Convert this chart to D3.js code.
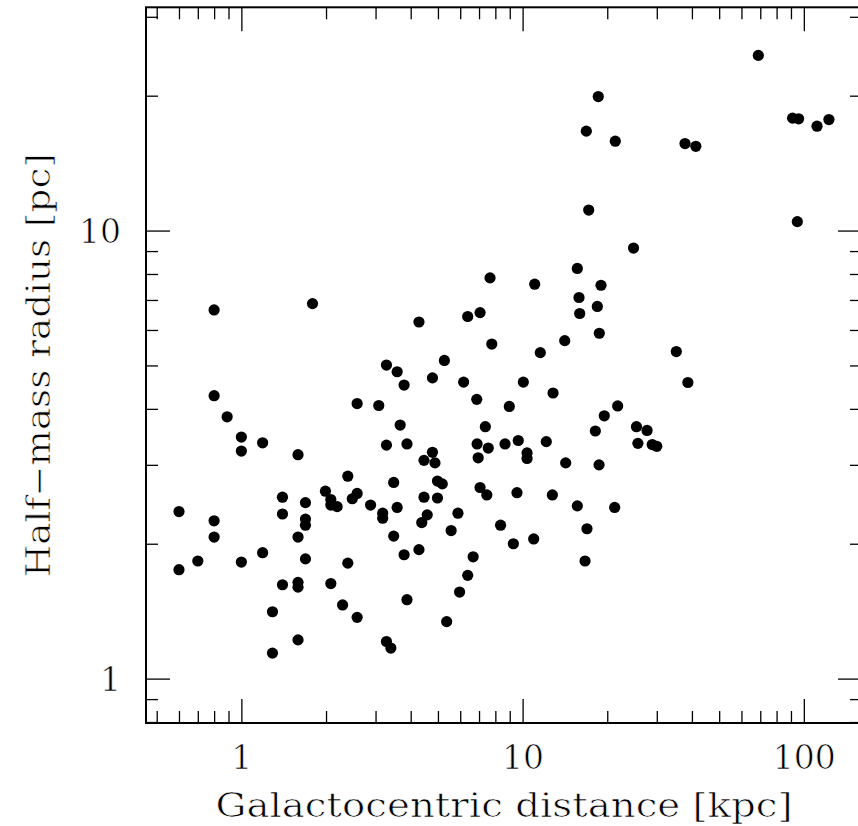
<!DOCTYPE html>
<html>
<head>
<meta charset="utf-8">
<script src="https://cdn.jsdelivr.net/npm/d3@7"></script>
<style>
  html, body { margin: 0; padding: 0; background: #fff; }
  svg { display: block; }
  text { font-family: "DejaVu Serif", serif; fill: #000; stroke: #fff; stroke-width: 0.7px; }
</style>
</head>
<body>
<svg id="chart" width="858" height="826"></svg>
<script>
// Galactocentric distance [kpc]
const distance = [
  0.60, 0.60, 0.70, 0.80, 0.80, 0.89, 0.80, 0.80, 1.00, 1.00,
  1.19, 1.00, 1.19, 1.29, 1.29, 1.59, 1.40, 1.40, 1.59, 1.69,
  1.69, 1.69, 1.69, 1.40, 1.59, 1.59, 1.59, 1.79, 1.99, 2.08,
  2.08, 2.19, 2.08, 2.29, 2.39, 2.39, 2.48, 2.58, 2.58, 2.58,
  2.88, 3.08, 3.18, 3.18, 3.28, 3.28, 3.28, 3.40, 3.48, 3.48,
  3.58, 3.58, 3.67, 3.79, 3.79, 3.88, 3.88, 4.28, 4.28, 4.38,
  4.46, 4.46, 4.58, 4.78, 4.78, 4.88, 4.98, 4.98, 5.18, 5.27,
  5.37, 5.57, 5.89, 5.97, 6.17, 6.38, 6.38, 6.67, 6.87, 6.89,
  6.95, 7.06, 7.06, 7.37, 7.46, 7.55, 7.66, 7.77, 8.35, 8.66,
  8.97, 9.27, 9.55, 9.65, 10.06, 10.37, 10.37, 10.95, 11.04, 11.56,
  12.14, 12.76, 12.83, 14.12, 14.23, 15.65, 15.65, 15.87, 15.96, 16.67,
  16.85, 16.94, 17.18, 18.14, 18.44, 18.58, 18.74, 18.7, 19.0, 19.52,
  21.25, 21.36, 21.78, 24.8, 25.4, 25.7, 27.7, 28.9, 30.0, 35.2,
  37.8, 38.7, 41.3, 68.9, 91.2, 95.8, 94.8, 111.4, 122.8
];
// Half-mass radius [pc]
const radius = [
  2.36, 1.75, 1.83, 6.65, 4.28, 3.84, 2.25, 2.07, 3.46, 3.22,
  3.36, 1.82, 1.91, 1.41, 1.14, 3.16, 2.54, 2.33, 2.07, 2.47,
  2.27, 2.20, 1.85, 1.62, 1.64, 1.60, 1.22, 6.87, 2.62, 2.51,
  2.44, 2.42, 1.63, 1.46, 2.83, 1.81, 2.52, 2.59, 4.11, 1.37,
  2.44, 4.07, 2.34, 2.28, 5.01, 3.32, 1.21, 1.17, 2.74, 2.08,
  4.84, 2.41, 3.68, 4.52, 1.89, 3.34, 1.50, 6.25, 1.94, 2.23,
  3.07, 2.54, 2.32, 4.69, 3.20, 3.03, 2.76, 2.53, 2.72, 5.13,
  1.34, 2.14, 2.34, 1.56, 4.59, 6.43, 1.70, 1.87, 4.20, 3.34,
  3.11, 6.56, 2.67, 3.65, 2.57, 3.27, 7.84, 5.58, 2.20, 3.34,
  4.05, 2.00, 2.60, 3.40, 4.59, 3.19, 3.10, 2.05, 7.59, 5.34,
  3.38, 2.57, 4.34, 5.68, 3.03, 8.23, 2.43, 7.09, 6.53, 1.83,
  16.67, 2.16, 11.11, 3.57, 6.77, 19.91, 5.90, 3.00, 7.55, 3.86,
  2.41, 15.83, 4.06, 9.14, 3.65, 3.35, 3.58, 3.33, 3.30, 5.37,
  15.64, 4.58, 15.42, 24.6, 17.82, 17.76, 10.47, 17.1, 17.69
];

const xDomain = [0.458, 161];
const yDomain = [0.796, 31.5];
const xMajorTicks = [1, 10, 100];
const xMinorTicks = [0.5, 0.6, 0.7, 0.8, 0.9, 2, 3, 4, 5, 6, 7, 8, 9,
                     20, 30, 40, 50, 60, 70, 80, 90];
const yMajorTicks = [1, 10];
const yMinorTicks = [0.8, 0.9, 2, 3, 4, 5, 6, 7, 8, 9, 20, 30];
const xLabel = "Galactocentric distance [kpc]";
const yLabel = "Half\u2212mass radius [pc]";

const L = 146, R = 862, T = 7.3, B = 723;
const svg = d3.select("#chart");

const x = d3.scaleLog().domain(xDomain).range([L, R]);
const y = d3.scaleLog().domain(yDomain).range([B, T]);

const fmt = d => String(d);
const FS = 33;

// points
svg.append("g").selectAll("circle")
  .data(distance.map((d, i) => [d, radius[i]]))
  .join("circle")
  .attr("cx", d => x(d[0]))
  .attr("cy", d => y(d[1]))
  .attr("r", 5.6)
  .attr("fill", "#000");

function styleAxis(g) {
  g.select(".domain").remove();
  g.selectAll(".tick line").attr("stroke", "#000").attr("stroke-width", 1.3);
}

// bottom
svg.append("g").attr("transform", `translate(0,${B})`)
  .call(d3.axisBottom(x).tickValues(xMajorTicks).tickSize(-24).tickFormat(fmt))
  .call(styleAxis)
  .call(g => g.selectAll("text").attr("y", 46).attr("dy", null)
      .attr("font-size", FS).attr("font-family", "DejaVu Serif").attr("fill", "#000"));
svg.append("g").attr("transform", `translate(0,${B})`)
  .call(d3.axisBottom(x).tickValues(xMinorTicks).tickSize(-12).tickFormat(""))
  .call(styleAxis);
// top
svg.append("g").attr("transform", `translate(0,${T})`)
  .call(d3.axisTop(x).tickValues(xMajorTicks).tickSize(-24).tickFormat(""))
  .call(styleAxis);
svg.append("g").attr("transform", `translate(0,${T})`)
  .call(d3.axisTop(x).tickValues(xMinorTicks).tickSize(-12).tickFormat(""))
  .call(styleAxis);
// left
svg.append("g").attr("transform", `translate(${L},0)`)
  .call(d3.axisLeft(y).tickValues(yMajorTicks).tickSize(-24).tickFormat(fmt))
  .call(styleAxis)
  .call(g => g.selectAll("text").attr("x", -25).attr("dy", "0.36em")
      .attr("font-size", FS).attr("font-family", "DejaVu Serif").attr("fill", "#000"));
svg.append("g").attr("transform", `translate(${L},0)`)
  .call(d3.axisLeft(y).tickValues(yMinorTicks).tickSize(-12).tickFormat(""))
  .call(styleAxis);
// right
svg.append("g").attr("transform", `translate(${R},0)`)
  .call(d3.axisRight(y).tickValues(yMajorTicks).tickSize(-24).tickFormat(""))
  .call(styleAxis);
svg.append("g").attr("transform", `translate(${R},0)`)
  .call(d3.axisRight(y).tickValues(yMinorTicks).tickSize(-12).tickFormat(""))
  .call(styleAxis);

// frame
svg.append("rect")
  .attr("x", L).attr("y", T).attr("width", R - L).attr("height", B - T)
  .attr("fill", "none").attr("stroke", "#000").attr("stroke-width", 2);

// axis titles
svg.append("text")
  .attr("x", (L + R) / 2).attr("y", 817)
  .attr("text-anchor", "middle").attr("font-size", FS)
  .attr("textLength", 577).attr("lengthAdjust", "spacingAndGlyphs")
  .text(xLabel);
svg.append("text")
  .attr("transform", `translate(50,${(T + B) / 2}) rotate(-90)`)
  .attr("text-anchor", "middle").attr("font-size", FS)
  .attr("textLength", 424).attr("lengthAdjust", "spacingAndGlyphs")
  .text(yLabel);
</script>
</body>
</html>
